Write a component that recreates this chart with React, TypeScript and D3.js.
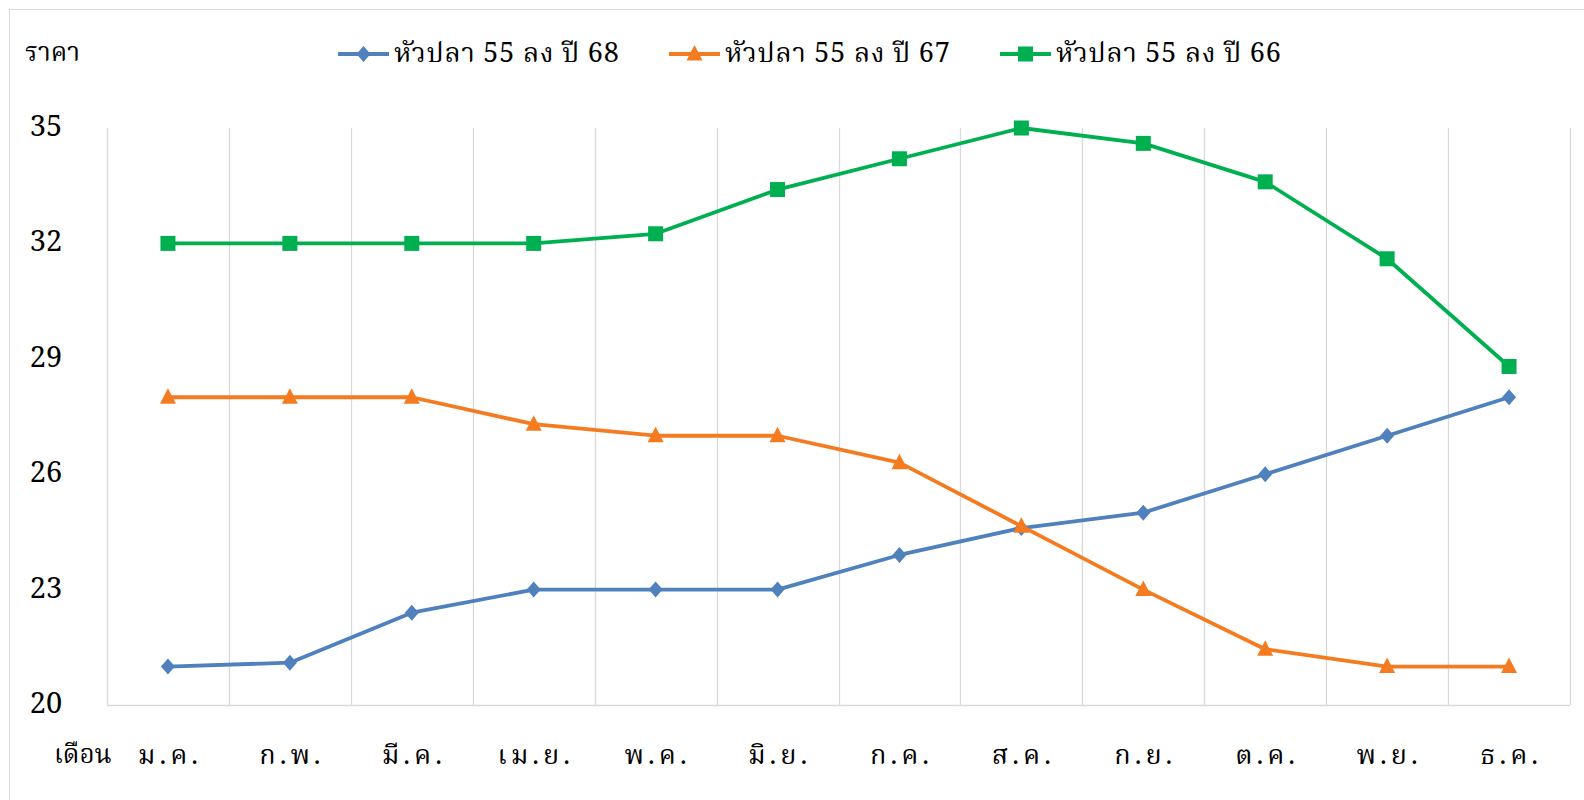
import React from 'react'
import * as d3 from 'd3'

const months = ['ม.ค.', 'ก.พ.', 'มี.ค.', 'เม.ย.', 'พ.ค.', 'มิ.ย.', 'ก.ค.', 'ส.ค.', 'ก.ย.', 'ต.ค.', 'พ.ย.', 'ธ.ค.']
const price68 = [21, 21.1, 22.4, 23, 23, 23, 23.9, 24.6, 25, 26, 27, 28]
const price67 = [28, 28, 28, 27.3, 27, 27, 26.3, 24.65, 23, 21.45, 21, 21]
const price66 = [32, 32, 32, 32, 32.25, 33.4, 34.2, 35, 34.6, 33.6, 31.6, 28.8]
const yTicks = [20, 23, 26, 29, 32, 35]
const seriesNames = ['หัวปลา 55 ลง ปี 68', 'หัวปลา 55 ลง ปี 67', 'หัวปลา 55 ลง ปี 66']

const W = 1584
const H = 800
const FONT = "'TH Sarabun New', 'Angsana New', 'Noto Serif Thai', 'Norasi', 'Garuda', 'Loma', 'Noto Sans Thai', 'DejaVu Serif', serif"

const series = [
  { name: seriesNames[0], values: price68, color: '#4f81bd', marker: 'diamond' },
  { name: seriesNames[1], values: price67, color: '#f47b20', marker: 'triangle' },
  { name: seriesNames[2], values: price66, color: '#00b050', marker: 'square' },
]

function Marker({ type, x, y, color }: { type: string; x: number; y: number; color: string }) {
  if (type === 'diamond') {
    return <path d={`M${x},${y - 8}L${x + 7},${y}L${x},${y + 8}L${x - 7},${y}Z`} fill={color} />
  }
  if (type === 'triangle') {
    return <path d={`M${x},${y - 9}L${x + 8},${y + 6.5}L${x - 8},${y + 6.5}Z`} fill={color} />
  }
  return <rect x={x - 7.5} y={y - 7.5} width={15} height={15} fill={color} />
}

export default function App() {
  const left = 107
  const right = 1570
  const top = 128
  const bottom = 705

  const x = d3.scaleBand().domain(months).range([left, right])
  const y = d3.scaleLinear().domain([20, 35]).range([bottom, top])
  const cx = (m: string) => (x(m) as number) + x.bandwidth() / 2

  const line = d3
    .line<number>()
    .x((_, i) => cx(months[i]))
    .y(d => y(d))

  const legendX = [338, 669, 1000]

  return (
    <svg
      width={W}
      height={H}
      style={{ position: 'absolute', left: 0, top: 0, background: '#fff' }}
      fontFamily={FONT}
    >
      <rect x={9.5} y={9.5} width={W} height={H} fill="#fff" stroke="#d9d9d9" />

      {/* vertical grid lines */}
      {d3.range(months.length + 1).map(i => {
        const gx = Math.round(left + i * x.bandwidth()) + 0.5
        return <line key={i} x1={gx} x2={gx} y1={top} y2={bottom} stroke="#d9d9d9" strokeWidth={1.3} />
      })}
      <line x1={left} x2={right} y1={bottom + 0.5} y2={bottom + 0.5} stroke="#d9d9d9" strokeWidth={1.5} />

      {yTicks.map(t => (
        <text key={t} x={46} y={y(t)} textAnchor="middle" dominantBaseline="central" fontSize={29} fill="#000">
          {t}
        </text>
      ))}

      {months.map(m => (
        <text key={m} x={cx(m) + 2} y={756} textAnchor="middle" dominantBaseline="central" fontSize={27} letterSpacing={4} fill="#000">
          {m}
        </text>
      ))}
      <text x={54} y={756} dominantBaseline="central" fontSize={26} fill="#000">เดือน</text>
      <text x={25} y={54} dominantBaseline="central" fontSize={26} fill="#000">ราคา</text>

      {series.map(s => (
        <g key={s.name}>
          <path d={line(s.values) as string} fill="none" stroke={s.color} strokeWidth={3.8} strokeLinejoin="round" />
          {s.values.map((v, i) => (
            <Marker key={i} type={s.marker} x={cx(months[i])} y={y(v)} color={s.color} />
          ))}
        </g>
      ))}

      {series.map((s, i) => (
        <g key={s.name} transform={`translate(${legendX[i]},54)`}>
          <line x1={0} x2={51} y1={0} y2={0} stroke={s.color} strokeWidth={3.8} />
          <Marker type={s.marker} x={25.5} y={0} color={s.color} />
          <text x={56} y={0} dominantBaseline="central" fontSize={27} letterSpacing={0.8} fill="#000">{s.name}</text>
        </g>
      ))}
    </svg>
  )
}
